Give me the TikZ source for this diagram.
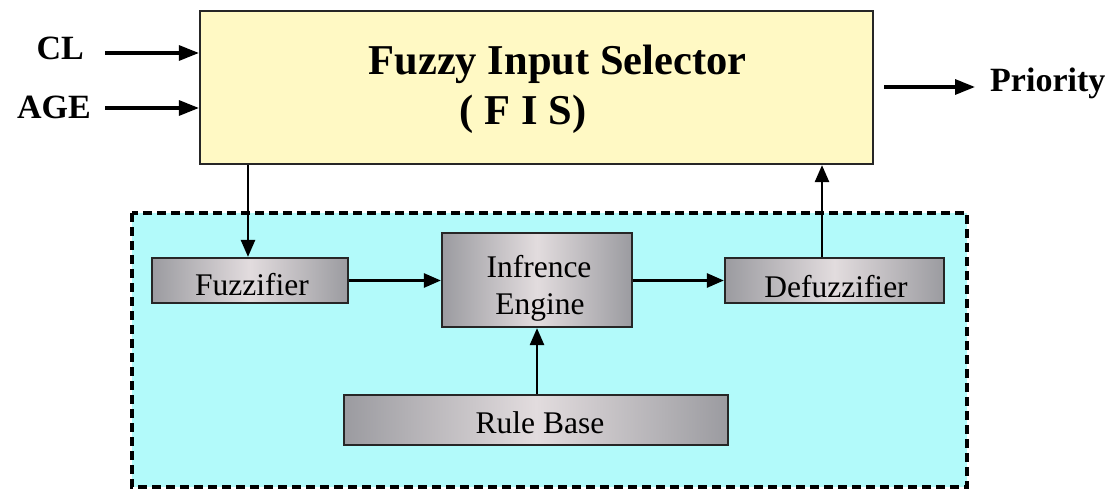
\documentclass[tikz,border=0pt]{standalone}
\usepackage{fontspec}
\setmainfont{Liberation Serif}
\usetikzlibrary{arrows.meta}
\definecolor{fisfill}{RGB}{255,249,196}
\definecolor{cyanfill}{RGB}{178,250,250}
\definecolor{boxedge}{RGB}{155,155,160}
\definecolor{boxmid}{RGB}{226,220,222}
\tikzset{
  arr/.style={line width=2.6pt,-{Triangle[length=17pt,width=14pt]}},
  inarr/.style={line width=3.2pt,-{Triangle[length=20pt,width=15pt]}},
  graybox/.style={draw=black!85,line width=2.2pt,inner sep=0pt,
    left color=boxedge,right color=boxedge,middle color=boxmid},
  big/.style={font=\fontsize{42.5}{50}\selectfont\bfseries,inner sep=0pt},
  side/.style={font=\fontsize{34}{40}\selectfont\bfseries,inner sep=0pt},
  lbl/.style={font=\fontsize{31.5}{37}\selectfont,inner sep=0pt},
}
\begin{document}
\begin{tikzpicture}[x=1pt,y=-1pt]
\useasboundingbox (0,0) rectangle (1114,489);
% dashed region
\draw[fill=cyanfill,line width=3.2pt,dash pattern=on 9pt off 5pt] (132,213) rectangle (967,487);
% main box
\node[draw=black!85,line width=2.2pt,fill=fisfill,minimum width=673pt,minimum height=153pt,inner sep=0pt] (fis) at (536.5,87.5) {};
\node[big,anchor=base] (t1) at (557.5,75) {Fuzzy Input Selector};
\node[big,anchor=base] (t2) at (523,125) {( F I S)};
% inner boxes
\node[graybox,minimum width=196pt,minimum height=45pt] (fz) at (250,280.5) {};
\node[graybox,minimum width=190pt,minimum height=94pt] (ie) at (537,280) {};
\node[graybox,minimum width=219pt,minimum height=45pt] (df) at (834.5,280.5) {};
\node[graybox,minimum width=384pt,minimum height=50pt] (rb) at (536,420) {};
\node[lbl,anchor=base] (fzt) at (252,295) {Fuzzifier};
\node[lbl,anchor=base] (iet1) at (539,277) {Infrence};
\node[lbl,anchor=base] (iet2) at (540,314) {Engine};
\node[lbl,anchor=base] (dft) at (836,297) {Defuzzifier};
\node[lbl,anchor=base] (rbt) at (540,433) {Rule Base};
% side labels
\node[side,anchor=base east] (cl) at (84,60) {CL};
\node[side,anchor=base east] (age) at (91,119) {AGE};
\node[side,anchor=base west] (pr) at (990,92) {Priority};
\coordinate (ci) at (105,53);
\coordinate (ai) at (105,108);
\coordinate (po) at (975,87);
% connectors
\draw[inarr] (ci) -- (ci -| fis.west);
\draw[inarr] (ai) -- (ai -| fis.west);
\draw[inarr] ([xshift=10pt]fis.east |- po) -- (po);
\draw[arr] ([xshift=-2pt]fz.north |- fis.south) -- ([xshift=-2pt]fz.north);
\draw[arr] (fz.east) -- (fz.east -| ie.west);
\draw[arr] (ie.east |- df.west) -- (df.west);
\draw[arr] ([xshift=-12.5pt]df.north) -- ([xshift=-12.5pt]df.north |- fis.south);
\draw[arr] (rb.north -| ie.south) -- (ie.south);
\end{tikzpicture}
\end{document}
